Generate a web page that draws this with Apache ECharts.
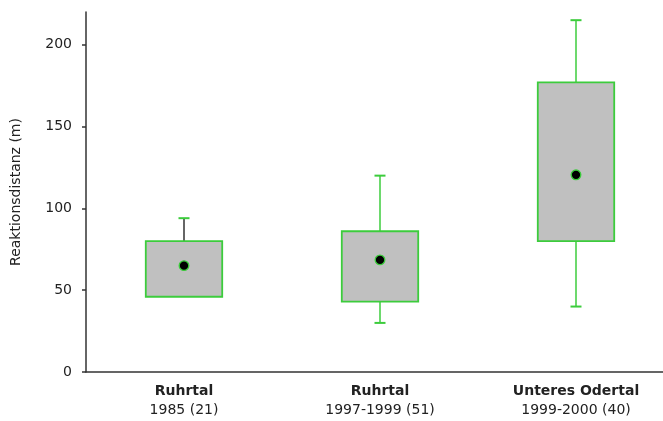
<!DOCTYPE html>
<html>
<head>
<meta charset="utf-8">
<script src="https://cdn.jsdelivr.net/npm/echarts@6/dist/echarts.min.js"></script>
<style>
  html, body { margin: 0; padding: 0; background: #fff; }
  #chart { width: 663px; height: 421px; }
</style>
</head>
<body>
<div id="chart"></div>
<script>
// Reaktionsdistanz je Gebiet

const catNames = ['Ruhrtal', 'Ruhrtal', 'Unteres Odertal'];
const catPeriods = ['1985 (21)', '1997-1999 (51)', '1999-2000 (40)'];
const whiskerLow = [46, 30, 40];
const q1 = [46, 43, 80];
const q3 = [80, 86, 177];
const whiskerHigh = [94, 120, 215];
const means = [65, 68.5, 120.5];
const yTicks = [0, 50, 100, 150, 200];

const GREEN = '#3ccc3c';
const AXIS = '#333';
const FONT = 'DejaVu Sans';

const data = catNames.map((n, i) => [i, whiskerLow[i], q1[i], q3[i], whiskerHigh[i], means[i]]);

// Box mit Whiskern und Mittelwert
function renderBox(params, api) {
    const i = api.value(0);
    const band = api.size([1, 0])[0];
    const half = band * 0.195;
    const cap = 5.5;
    const pLow = api.coord([i, api.value(1)]);
    const pQ1 = api.coord([i, api.value(2)]);
    const pQ3 = api.coord([i, api.value(3)]);
    const pHigh = api.coord([i, api.value(4)]);
    const pMean = api.coord([i, api.value(5)]);
    const x = pQ1[0];
    // erster Whisker oben ist im Original dunkel
    const upColor = i === 0 ? AXIS : GREEN;
    const children = [];
    if (pHigh[1] < pQ3[1]) {
        children.push({ type: 'line', shape: { x1: x, y1: pQ3[1], x2: x, y2: pHigh[1] }, style: { stroke: upColor, lineWidth: 1.5 } });
        children.push({ type: 'line', shape: { x1: x - cap, y1: pHigh[1], x2: x + cap, y2: pHigh[1] }, style: { stroke: GREEN, lineWidth: 2 } });
    }
    if (pLow[1] > pQ1[1]) {
        children.push({ type: 'line', shape: { x1: x, y1: pQ1[1], x2: x, y2: pLow[1] }, style: { stroke: GREEN, lineWidth: 1.5 } });
        children.push({ type: 'line', shape: { x1: x - cap, y1: pLow[1], x2: x + cap, y2: pLow[1] }, style: { stroke: GREEN, lineWidth: 2 } });
    }
    children.push({
        type: 'rect',
        shape: { x: x - half, y: pQ3[1], width: half * 2, height: pQ1[1] - pQ3[1] },
        style: { fill: '#c0c0c0', stroke: GREEN, lineWidth: 1.8 }
    });
    children.push({
        type: 'circle',
        shape: { cx: pMean[0], cy: pMean[1], r: 4.8 },
        style: { fill: '#000', stroke: GREEN, lineWidth: 1.3 }
    });
    return { type: 'group', children };
}

const chart = echarts.init(document.getElementById('chart'));
chart.setOption({
    animation: false,
    grid: { left: 86, top: 12, bottom: 49, width: 588, outerBoundsMode: 'none' },
    xAxis: {
        type: 'category',
        data: catNames.map((n, i) => n + '\n' + catPeriods[i]),
        axisLine: { lineStyle: { color: AXIS, width: 1.5 } },
        axisTick: { show: false },
        axisLabel: {
            margin: 10,
            interval: 0,
            formatter: v => {
                const parts = v.split('\n');
                return '{b|' + parts[0] + '}\n{n|' + parts[1] + '}';
            },
            rich: {
                b: { fontFamily: FONT, fontWeight: 'bold', fontSize: 14, color: '#222', lineHeight: 19 },
                n: { fontFamily: FONT, fontSize: 14, color: '#222', lineHeight: 19 }
            }
        }
    },
    yAxis: {
        type: 'value',
        min: 0,
        max: 220,
        interval: 50,
        name: 'Reaktionsdistanz (m)',
        nameLocation: 'middle',
        nameRotate: 90,
        nameGap: 63,
        nameTextStyle: { fontFamily: FONT, fontSize: 14, color: '#222' },
        axisLine: { show: true, lineStyle: { color: AXIS, width: 1.5 } },
        axisTick: { show: true, inside: false, length: 4, customValues: yTicks, lineStyle: { color: AXIS, width: 1.5 } },
        axisLabel: { customValues: yTicks, margin: 14, fontFamily: FONT, fontSize: 14, color: '#222' },
        splitLine: { show: false }
    },
    series: [{
        type: 'custom',
        renderItem: renderBox,
        encode: { x: 0, y: [1, 2, 3, 4, 5] },
        data: data
    }]
});
</script>
</body>
</html>
